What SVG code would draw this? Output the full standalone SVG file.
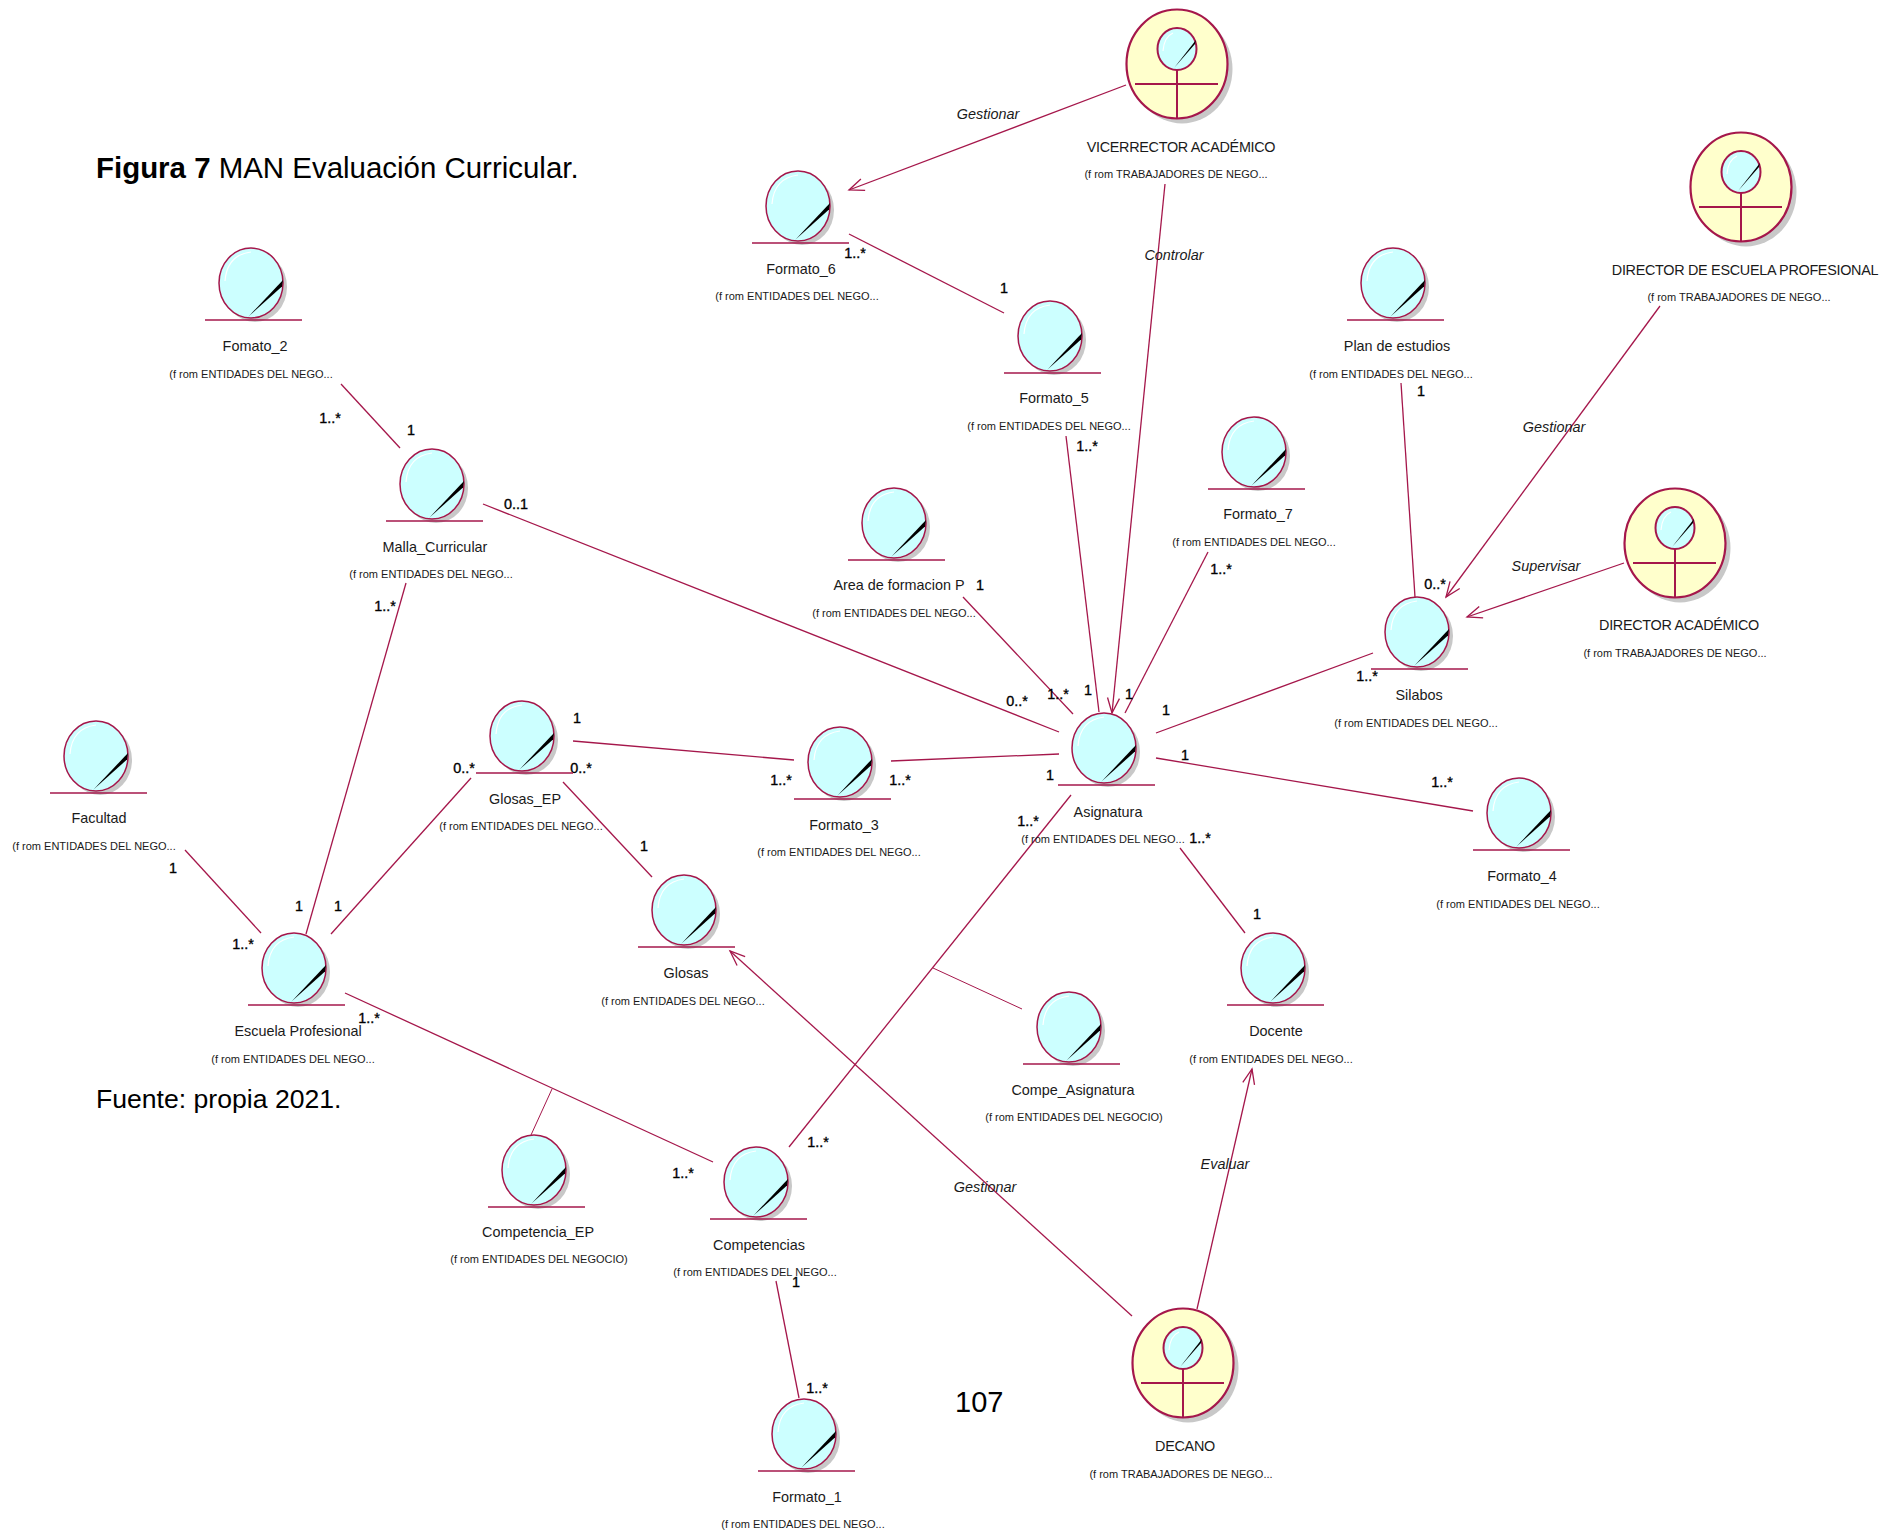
<svg xmlns="http://www.w3.org/2000/svg" xmlns:xlink="http://www.w3.org/1999/xlink" width="1883" height="1531" viewBox="0 0 1883 1531">
<style>
text{font-family:"Liberation Sans",Arial,sans-serif;fill:#1a1a1a}
.n{font-size:14.4px;text-anchor:middle}
.na{font-size:14.4px;text-anchor:middle;letter-spacing:-.3px}
.f{font-size:11px;text-anchor:middle}
.m{font-size:14.4px;text-anchor:middle;fill:#000;stroke:#000;stroke-width:.35px}
.r{font-size:14.4px;font-style:italic;text-anchor:middle}
.t{font-size:29.45px;fill:#000}
.c line,.c path{stroke:#a5174b;stroke-width:1.3;fill:none}
.e{fill:#ccffff;stroke:#a5174b;stroke-width:1.5}
.s{fill:#c8c8c8}
.a{fill:#ffffcc;stroke:#a5174b;stroke-width:2.2}
.l{stroke:#a5174b;stroke-width:1.5;fill:none}
.l2{stroke:#a5174b;stroke-width:2;fill:none}
.h{stroke:#fff;stroke-width:1.2;fill:none}
</style>
<defs>
<linearGradient id="nd" x1="1" y1="0" x2="0" y2="1">
<stop offset="0" stop-color="#000"/><stop offset=".88" stop-color="#000"/><stop offset="1" stop-color="#7aa"/>
</linearGradient>
<g id="ent">
<ellipse class="s" cx="4" cy="4" rx="32" ry="35"/>
<ellipse class="e" cx="0" cy="0" rx="32" ry="35"/>
<path class="h" d="M-26,-2 Q-24,-28 0,-31"/>
<path d="M32,-3 L31,3.5 L-3,34 Z" fill="url(#nd)"/>
<line class="l" x1="-46" y1="37" x2="51" y2="37"/>
</g>
<g id="act">
<ellipse class="s" cx="5" cy="5" rx="50.5" ry="54.5"/>
<ellipse class="a" cx="0" cy="0" rx="50.5" ry="54.5"/>
<ellipse class="e" style="stroke-width:2" cx="0" cy="-15" rx="19.5" ry="21"/>
<path class="h" d="M-14,-13 Q-13,-27 -4,-31"/>
<path d="M19,-24 L18,-20 L-3,4 Z" fill="url(#nd)"/>
<path class="l2" d="M-42,20 H41 M0,6 V54"/>
</g>
<marker id="ar" markerWidth="20" markerHeight="16" refX="16" refY="8" orient="auto" markerUnits="userSpaceOnUse">
<path d="M1,2 L16,8 L1,14" fill="none" stroke="#a5174b" stroke-width="1.3"/>
</marker>
</defs>
<rect width="1883" height="1531" fill="#fff"/>
<g id="connectors" class="c">
<line x1="1126" y1="85" x2="849" y2="190" marker-end="url(#ar)"/>
<line x1="849" y1="234" x2="1004" y2="313"/>
<line x1="1165" y1="184" x2="1112" y2="713" marker-end="url(#ar)"/>
<line x1="1066" y1="436" x2="1099" y2="712"/>
<line x1="1208" y1="552" x2="1125" y2="713"/>
<line x1="963" y1="597" x2="1073" y2="714"/>
<line x1="483" y1="504" x2="1059" y2="732"/>
<line x1="341" y1="384" x2="400" y2="448"/>
<line x1="406" y1="583" x2="306" y2="934"/>
<line x1="185" y1="850" x2="261" y2="933"/>
<line x1="471" y1="778" x2="331" y2="934"/>
<line x1="573" y1="741" x2="794" y2="760"/>
<line x1="891" y1="761" x2="1059" y2="754"/>
<line x1="563" y1="782" x2="652" y2="877"/>
<line x1="1156" y1="733" x2="1373" y2="653"/>
<line x1="1156" y1="758" x2="1473" y2="811"/>
<line x1="1180" y1="848" x2="1245" y2="933"/>
<line x1="1071" y1="795" x2="789" y2="1147"/>
<line x1="1401" y1="383" x2="1415" y2="597"/>
<line x1="1660" y1="306" x2="1446" y2="597" marker-end="url(#ar)"/>
<line x1="1624" y1="563" x2="1467" y2="617" marker-end="url(#ar)"/>
<line x1="345" y1="993" x2="713" y2="1162"/>
<line x1="552" y1="1089" x2="531" y2="1135" style="stroke-width:1"/>
<line x1="933" y1="968" x2="1022" y2="1009" style="stroke-width:1"/>
<line x1="776" y1="1281" x2="799" y2="1398"/>
<line x1="1132" y1="1316" x2="730" y2="951" marker-end="url(#ar)"/>
<line x1="1197" y1="1309" x2="1252" y2="1069" marker-end="url(#ar)"/>
</g>
<g id="labels-connectors">
<text class="r" x="988" y="119">Gestionar</text>
<text class="r" x="1174" y="260">Controlar</text>
<text class="r" x="1554" y="432">Gestionar</text>
<text class="r" x="1546" y="571">Supervisar</text>
<text class="r" x="985" y="1192">Gestionar</text>
<text class="r" x="1225" y="1169">Evaluar</text>
<text class="m" x="855" y="258">1..*</text>
<text class="m" x="1004" y="293">1</text>
<text class="m" x="1087" y="451">1..*</text>
<text class="m" x="1421" y="396">1</text>
<text class="m" x="1221" y="574">1..*</text>
<text class="m" x="1435" y="589">0..*</text>
<text class="m" x="980" y="590">1</text>
<text class="m" x="330" y="423">1..*</text>
<text class="m" x="411" y="435">1</text>
<text class="m" x="516" y="509">0..1</text>
<text class="m" x="385" y="611">1..*</text>
<text class="m" x="1017" y="706">0..*</text>
<text class="m" x="1058" y="699">1..*</text>
<text class="m" x="1088" y="695">1</text>
<text class="m" x="1129" y="699">1</text>
<text class="m" x="1166" y="715">1</text>
<text class="m" x="1367" y="681">1..*</text>
<text class="m" x="1185" y="760">1</text>
<text class="m" x="1442" y="787">1..*</text>
<text class="m" x="577" y="723">1</text>
<text class="m" x="464" y="773">0..*</text>
<text class="m" x="581" y="773">0..*</text>
<text class="m" x="781" y="785">1..*</text>
<text class="m" x="900" y="785">1..*</text>
<text class="m" x="1050" y="780">1</text>
<text class="m" x="1028" y="826">1..*</text>
<text class="m" x="1200" y="843">1..*</text>
<text class="m" x="644" y="851">1</text>
<text class="m" x="173" y="873">1</text>
<text class="m" x="243" y="949">1..*</text>
<text class="m" x="299" y="911">1</text>
<text class="m" x="338" y="911">1</text>
<text class="m" x="369" y="1023">1..*</text>
<text class="m" x="1257" y="919">1</text>
<text class="m" x="683" y="1178">1..*</text>
<text class="m" x="818" y="1147">1..*</text>
<text class="m" x="796" y="1287">1</text>
<text class="m" x="817" y="1393">1..*</text>
</g>
<g id="caption">
<text class="t" x="96" y="178"><tspan font-weight="bold">Figura 7</tspan> MAN Evaluación Curricular.</text>
<text class="t" style="font-size:26.6px" x="96" y="1108">Fuente: propia 2021.</text>
<text class="t" style="font-size:29px" x="955" y="1412">107</text>
</g>
<g id="formato6"><use xlink:href="#ent" x="798" y="206"/><text class="n" x="801" y="274">Formato_6</text><text class="f" x="797" y="300">(f rom ENTIDADES DEL NEGO...</text></g>
<g id="formato5"><use xlink:href="#ent" x="1050" y="336"/><text class="n" x="1054" y="403">Formato_5</text><text class="f" x="1049" y="430">(f rom ENTIDADES DEL NEGO...</text></g>
<g id="fomato2"><use xlink:href="#ent" x="251" y="283"/><text class="n" x="255" y="351">Fomato_2</text><text class="f" x="251" y="378">(f rom ENTIDADES DEL NEGO...</text></g>
<g id="plan"><use xlink:href="#ent" x="1393" y="283"/><text class="n" x="1397" y="351">Plan de estudios</text><text class="f" x="1391" y="378">(f rom ENTIDADES DEL NEGO...</text></g>
<g id="formato7"><use xlink:href="#ent" x="1254" y="452"/><text class="n" x="1258" y="519">Formato_7</text><text class="f" x="1254" y="546">(f rom ENTIDADES DEL NEGO...</text></g>
<g id="area"><use xlink:href="#ent" x="894" y="523"/><text class="n" x="899" y="590">Area de formacion P</text><text class="f" x="894" y="617">(f rom ENTIDADES DEL NEGO...</text></g>
<g id="malla"><use xlink:href="#ent" x="432" y="484"/><text class="n" x="435" y="552">Malla_Curricular</text><text class="f" x="431" y="578">(f rom ENTIDADES DEL NEGO...</text></g>
<g id="facultad"><use xlink:href="#ent" x="96" y="756"/><text class="n" x="99" y="823">Facultad</text><text class="f" x="94" y="850">(f rom ENTIDADES DEL NEGO...</text></g>
<g id="glosas-ep"><use xlink:href="#ent" x="522" y="736"/><text class="n" x="525" y="804">Glosas_EP</text><text class="f" x="521" y="830">(f rom ENTIDADES DEL NEGO...</text></g>
<g id="formato3"><use xlink:href="#ent" x="840" y="762"/><text class="n" x="844" y="830">Formato_3</text><text class="f" x="839" y="856">(f rom ENTIDADES DEL NEGO...</text></g>
<g id="asignatura"><use xlink:href="#ent" x="1104" y="748"/><text class="n" x="1108" y="817">Asignatura</text><text class="f" x="1103" y="843">(f rom ENTIDADES DEL NEGO...</text></g>
<g id="silabos"><use xlink:href="#ent" x="1417" y="632"/><text class="n" x="1419" y="700">Silabos</text><text class="f" x="1416" y="727">(f rom ENTIDADES DEL NEGO...</text></g>
<g id="formato4"><use xlink:href="#ent" x="1519" y="813"/><text class="n" x="1522" y="881">Formato_4</text><text class="f" x="1518" y="908">(f rom ENTIDADES DEL NEGO...</text></g>
<g id="glosas"><use xlink:href="#ent" x="684" y="910"/><text class="n" x="686" y="978">Glosas</text><text class="f" x="683" y="1005">(f rom ENTIDADES DEL NEGO...</text></g>
<g id="docente"><use xlink:href="#ent" x="1273" y="968"/><text class="n" x="1276" y="1036">Docente</text><text class="f" x="1271" y="1063">(f rom ENTIDADES DEL NEGO...</text></g>
<g id="compe-asignatura"><use xlink:href="#ent" x="1069" y="1027"/><text class="n" x="1073" y="1095">Compe_Asignatura</text><text class="f" x="1074" y="1121">(f rom ENTIDADES DEL NEGOCIO)</text></g>
<g id="escuela"><use xlink:href="#ent" x="294" y="968"/><text class="n" x="298" y="1036">Escuela Profesional</text><text class="f" x="293" y="1063">(f rom ENTIDADES DEL NEGO...</text></g>
<g id="competencia-ep"><use xlink:href="#ent" x="534" y="1170"/><text class="n" x="538" y="1237">Competencia_EP</text><text class="f" x="539" y="1263">(f rom ENTIDADES DEL NEGOCIO)</text></g>
<g id="competencias"><use xlink:href="#ent" x="756" y="1182"/><text class="n" x="759" y="1250">Competencias</text><text class="f" x="755" y="1276">(f rom ENTIDADES DEL NEGO...</text></g>
<g id="formato1"><use xlink:href="#ent" x="804" y="1434"/><text class="n" x="807" y="1502">Formato_1</text><text class="f" x="803" y="1528">(f rom ENTIDADES DEL NEGO...</text></g>
<g id="vicerrector"><use xlink:href="#act" x="1177" y="64"/><text class="na" x="1181" y="152">VICERRECTOR ACADÉMICO</text><text class="f" x="1176" y="178">(f rom TRABAJADORES DE NEGO...</text></g>
<g id="director-escuela"><use xlink:href="#act" x="1741" y="187"/><text class="na" x="1745" y="275">DIRECTOR DE ESCUELA PROFESIONAL</text><text class="f" x="1739" y="301">(f rom TRABAJADORES DE NEGO...</text></g>
<g id="director-academico"><use xlink:href="#act" x="1675" y="543"/><text class="na" x="1679" y="630">DIRECTOR ACADÉMICO</text><text class="f" x="1675" y="657">(f rom TRABAJADORES DE NEGO...</text></g>
<g id="decano"><use xlink:href="#act" x="1183" y="1363"/><text class="na" x="1185" y="1451">DECANO</text><text class="f" x="1181" y="1478">(f rom TRABAJADORES DE NEGO...</text></g>
</svg>
